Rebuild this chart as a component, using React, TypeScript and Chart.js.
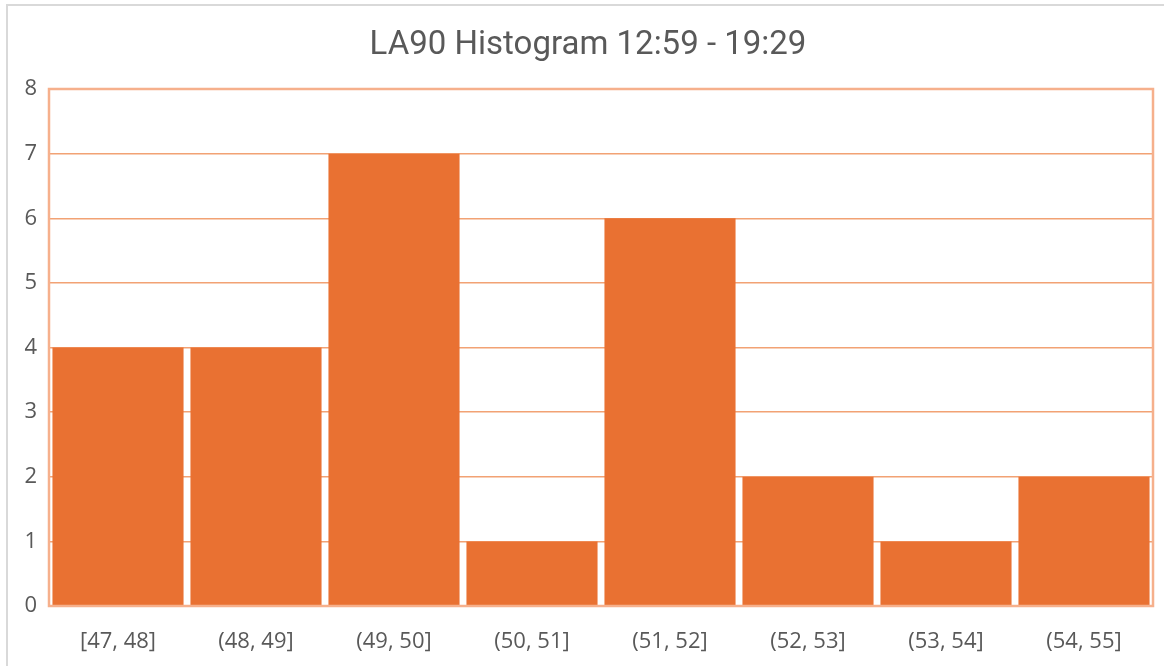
import React, { useEffect, useRef } from "react";
import { Chart, registerables } from "chart.js";

Chart.register(...registerables);

const categories = ["[47, 48]", "(48, 49]", "(49, 50]", "(50, 51]", "(51, 52]", "(52, 53]", "(53, 54]", "(54, 55]"];
const counts = [4, 4, 7, 1, 6, 2, 1, 2];
const titleText = "LA90 Histogram 12:59 - 19:29";

const framePlugin = {
  id: "framePlugin",
  beforeDraw(chart: any) {
    const ctx = chart.ctx;
    ctx.save();
    ctx.fillStyle = "#ffffff";
    ctx.fillRect(0, 0, chart.width, chart.height);
    ctx.strokeStyle = "#d9d9d9";
    ctx.lineWidth = 2;
    ctx.beginPath();
    ctx.moveTo(7, chart.height);
    ctx.lineTo(7, 5);
    ctx.lineTo(chart.width, 5);
    ctx.stroke();
    ctx.restore();
  },
  afterDatasetsDraw(chart: any) {
    const { ctx, chartArea } = chart;
    ctx.save();
    ctx.strokeStyle = "#F6B08C";
    ctx.lineWidth = 2.5;
    ctx.strokeRect(chartArea.left, chartArea.top, chartArea.right - chartArea.left, chartArea.bottom - chartArea.top);
    ctx.restore();
  },
};

export default function App() {
  const ref = useRef<HTMLCanvasElement>(null);
  useEffect(() => {
    if (!ref.current) return;
    const chart = new Chart(ref.current, {
      type: "bar",
      data: {
        labels: categories,
        datasets: [
          {
            data: counts,
            backgroundColor: "#E97132",
            borderWidth: 0,
            barPercentage: 0.95,
            categoryPercentage: 1,
          },
        ],
      },
      options: {
        animation: false,
        responsive: false,
        maintainAspectRatio: false,
        layout: { padding: { left: 23, right: 11, top: 0, bottom: 0 } },
        plugins: {
          legend: { display: false },
          tooltip: { enabled: false },
          title: {
            display: true,
            text: titleText,
            color: "#595959",
            font: { family: "Roboto", size: 33, weight: "normal", lineHeight: 1.2 },
            padding: { top: 26, bottom: 23.4 },
          },
        },
        scales: {
          x: {
            grid: { display: false, drawTicks: false },
            border: { display: false },
            ticks: {
              color: "#595959",
              font: { family: "Open Sans", size: 22, lineHeight: 1.2 },
              padding: 23,
              maxRotation: 0,
              autoSkip: false,
            },
            afterFit: (s: any) => {
              s.height = 60;
            },
          },
          y: {
            min: 0,
            max: 8,
            grid: { color: "#F2A274", lineWidth: 1.5, drawTicks: false },
            border: { display: false },
            ticks: {
              stepSize: 1,
              color: "#595959",
              font: { family: "Open Sans", size: 22 },
              padding: 12,
            },
            afterFit: (s: any) => {
              s.width = 26;
            },
          },
        },
      },
      plugins: [framePlugin],
    });
    return () => chart.destroy();
  }, []);
  return (
    <div style={{ position: "absolute", left: 0, top: 0, width: 1164, height: 666 }}>
      <canvas ref={ref} width={1164} height={666} style={{ width: 1164, height: 666, display: "block" }} />
    </div>
  );
}
